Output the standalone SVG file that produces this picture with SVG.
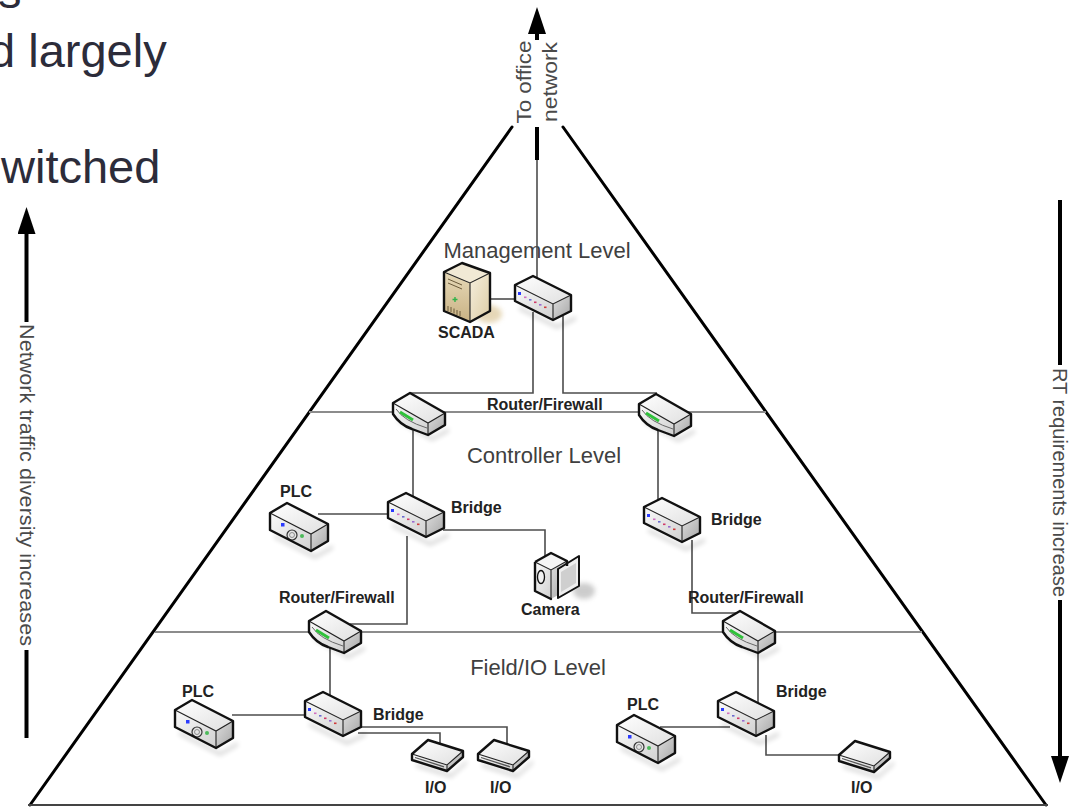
<svg xmlns="http://www.w3.org/2000/svg" xmlns:xlink="http://www.w3.org/1999/xlink" width="1071" height="807" viewBox="0 0 1071 807">
<style>
.conn{fill:none;stroke:#4d4d4d;stroke-width:1.6}
.lvl{stroke:#8c8c8c;stroke-width:2;fill:none}
.pyr{stroke:#000;stroke-width:3;fill:none;stroke-linecap:round}
.axis{stroke:#000;stroke-width:4;fill:none}
.lbl{font-family:"Liberation Sans",Arial,sans-serif;font-weight:bold;font-size:16px;fill:#222}
.lvltxt{font-family:"Liberation Sans",Arial,sans-serif;font-size:22px;fill:#404040;text-anchor:middle}
.rot{font-family:"Liberation Sans",Arial,sans-serif;font-size:20px;fill:#4a4a4a}
.slide{font-family:"Liberation Sans",Arial,sans-serif;font-size:47px;fill:#2c2c3a}
.ol{fill:none;stroke:#111;stroke-width:2.4;stroke-linejoin:round}
.ed{fill:none;stroke:#222;stroke-width:1.1}
.shd{fill:#000;opacity:.16}
</style>
<defs>
<filter id="sh" x="-50%" y="-50%" width="200%" height="200%"><feGaussianBlur stdDeviation="2.5"/></filter>
<linearGradient id="gTop" x1="0" y1="0" x2="1" y2="1"><stop offset="0" stop-color="#ffffff"/><stop offset="1" stop-color="#e0e0e0"/></linearGradient>
<linearGradient id="gFront" x1="0" y1="0" x2="1" y2="1"><stop offset="0" stop-color="#fafafa"/><stop offset="1" stop-color="#d0d0d0"/></linearGradient>
<linearGradient id="gSide" x1="0" y1="0" x2="1" y2="1"><stop offset="0" stop-color="#dedede"/><stop offset="1" stop-color="#a6a6a6"/></linearGradient>
<linearGradient id="gTan" x1="0" y1="0" x2="0" y2="1"><stop offset="0" stop-color="#e6d9b8"/><stop offset="1" stop-color="#c9b284"/></linearGradient>
<linearGradient id="gTan2" x1="0" y1="0" x2="1" y2="1"><stop offset="0" stop-color="#f6efde"/><stop offset="1" stop-color="#dccca4"/></linearGradient>
<marker id="ah" markerWidth="28" markerHeight="18" refX="1" refY="9" orient="auto" markerUnits="userSpaceOnUse" viewBox="0 0 28 18"><path d="M0,0 L27,9 L0,18 Z" fill="#000"/></marker>

<g id="bridgeShape">
 <polygon class="shd" filter="url(#sh)" points="6,31 44,50 63,41 63,45 44,54 6,35"/>
 <polygon points="2,10 20,1 58,20 40,29" fill="url(#gTop)"/>
 <polygon points="2,10 40,29 40,45 2,26" fill="url(#gFront)"/>
 <polygon points="40,29 58,20 58,36 40,45" fill="url(#gSide)"/>
 <path class="ed" d="M2,10 L40,29 L58,20 M40,29 V45"/>
 <rect x="5" y="17" width="3" height="3" fill="#2b3bff"/>
 <rect x="11" y="21.5" width="2.5" height="1.6" fill="#d070c0"/>
 <rect x="16" y="24" width="2.5" height="1.6" fill="#6a6ad0"/>
 <rect x="21" y="26.5" width="2.5" height="1.6" fill="#d03a6a"/>
 <rect x="26" y="29" width="2.5" height="1.6" fill="#9a6ad0"/>
 <rect x="31" y="31.5" width="2.5" height="1.6" fill="#d03a3a"/>
 <path class="ol" d="M2,10 L20,1 L58,20 L58,36 L40,45 L2,26 Z"/>
</g>

<g id="plcShape">
 <polygon class="shd" filter="url(#sh)" points="4,31 45,52 63,42 63,46 45,56 4,35"/>
 <polygon points="0,10 17,0 58,21 41,31" fill="url(#gTop)"/>
 <polygon points="0,10 41,31 41,48 0,27" fill="url(#gFront)"/>
 <polygon points="41,31 58,21 58,38 41,48" fill="url(#gSide)"/>
 <path class="ed" d="M0,10 L41,31 L58,21 M41,31 V48"/>
 <rect x="11" y="20" width="3.5" height="3.5" fill="#2b3bff"/>
 <circle cx="22" cy="32" r="5" fill="#e4e4e4" stroke="#333" stroke-width="1.2"/>
 <circle cx="22" cy="32" r="2.5" fill="none" stroke="#777" stroke-width=".8"/>
 <circle cx="32" cy="33" r="2" fill="#4cba5a"/>
 <path class="ol" d="M0,10 L17,0 L58,21 L58,38 L41,48 L0,27 Z"/>
</g>

<g id="routerShape">
 <polygon class="shd" filter="url(#sh)" points="6,26 40,45 57,36 57,40 40,49 6,30"/>
 <polygon points="1,11 18,1 53,21 36,31" fill="url(#gTop)"/>
 <path d="M1,11 L36,31 L36,43 L20,37 Q8,33 1,22 Z" fill="url(#gFront)"/>
 <polygon points="36,31 53,21 53,33 36,43" fill="url(#gSide)"/>
 <path class="ed" d="M1,11 L36,31 L53,21 M36,31 V43"/>
 <path d="M4,17 Q12,29 35,36" fill="none" stroke="#666" stroke-width="1"/>
 <path d="M8,20 L21,28" fill="none" stroke="#2fc23a" stroke-width="3"/>
 <path class="ol" d="M1,11 L18,1 L53,21 L53,33 L36,43 L20,37 Q8,33 1,22 Z"/>
</g>

<g id="ioShape">
 <polygon class="shd" filter="url(#sh)" points="6,26 41,37 57,23 57,27 41,41 6,30"/>
 <polygon points="2,17 18,3 53,14 37,28" fill="url(#gTop)"/>
 <polygon points="2,17 37,28 37,34 2,23" fill="url(#gFront)"/>
 <polygon points="37,28 53,14 53,20 37,34" fill="url(#gSide)"/>
 <path class="ed" d="M2,17 L37,28 L53,14 M37,28 V34"/>
 <path d="M5,20.5 L34,29.8" fill="none" stroke="#555" stroke-width="1.3"/>
 <path class="ol" d="M2,17 L18,3 L53,14 L53,20 L37,34 L2,23 Z"/>
</g>
</defs>

<rect x="0" y="0" width="1071" height="807" fill="#ffffff"/>

<g id="slide-text">
 <text class="slide" x="-2" y="8">s</text>
 <text class="slide" x="-11" y="67">d largely</text>
 <text class="slide" x="1" y="183">witched</text>
</g>

<g id="pyramid">
 <path class="pyr" d="M512,127 L30,805"/>
 <path class="pyr" d="M563,127 L1046,805"/>
 <path d="M28,805 H1048" stroke="#444" stroke-width="2.2" fill="none"/>
 <path class="lvl" d="M309,412 H766"/>
 <path class="lvl" d="M155,632 H922"/>
</g>

<g id="axes">
 <path class="axis" d="M26.5,322 V233" marker-end="url(#ah)"/>
 <path class="axis" d="M26.5,650 V738"/>
 <text class="rot" font-size="21" transform="translate(20,324) rotate(90)" textLength="322" lengthAdjust="spacingAndGlyphs">Network traffic diversity increases</text>
 <path class="axis" d="M1060,200 V365"/>
 <path class="axis" d="M1060,600 V757" marker-end="url(#ah)"/>
 <text class="rot" transform="translate(1053,368) rotate(90)" textLength="229" lengthAdjust="spacingAndGlyphs">RT requirements increase</text>
 <path class="axis" d="M537,40 V33" marker-end="url(#ah)"/>
 <text class="rot" font-size="21" text-anchor="middle" transform="translate(531,82) rotate(-90)" textLength="83" lengthAdjust="spacingAndGlyphs">To office</text>
 <text class="rot" font-size="21" text-anchor="middle" transform="translate(557,82) rotate(-90)" textLength="80" lengthAdjust="spacingAndGlyphs">network</text>
</g>

<g id="levels">
 <text class="lvltxt" x="537" y="258">Management Level</text>
 <text class="lvltxt" x="544" y="463">Controller Level</text>
 <text class="lvltxt" x="538" y="675">Field/IO Level</text>
</g>

<g id="connectors">
 <path d="M537,127 V160" stroke="#000" stroke-width="4" fill="none"/>
 <path class="conn" d="M537,160 V283"/>
 <path class="conn" d="M488,299 H518"/>
 <path class="conn" d="M533,312 V393 H410"/>
 <path class="conn" d="M563,316 V393 H657"/>
 <path class="conn" d="M413,428 V497"/>
 <path class="conn" d="M658,430 V502"/>
 <path class="conn" d="M318,514 H392"/>
 <path class="conn" d="M443,530 H545 V557"/>
 <path class="conn" d="M407,536 V624 H350"/>
 <path class="conn" d="M692,540 V613 H740"/>
 <path class="conn" d="M330,645 V695"/>
 <path class="conn" d="M758,645 V704"/>
 <path class="conn" d="M232,715 H308"/>
 <path class="conn" d="M358,727 H507 V745"/>
 <path class="conn" d="M358,733 H440 V746"/>
 <path class="conn" d="M660,727 H730"/>
 <path class="conn" d="M766,735 V755 H845"/>
</g>

<g id="scada">
 <ellipse cx="489" cy="314" rx="13" ry="9" fill="#dcc79a" opacity=".7" filter="url(#sh)"/>
 <polygon points="444,272 462,263 490,273 470,283" fill="#f1e9d5"/>
 <polygon points="444,272 470,283 470,322 444,311" fill="url(#gTan)"/>
 <polygon points="470,283 490,273 490,311 470,322" fill="url(#gTan2)"/>
 <path class="ed" d="M444,272 L470,283 L490,273 M470,283 V322"/>
 <path d="M448,279 L462,285 M448,283 L462,289" stroke="#6a5a3a" stroke-width="1" fill="none"/>
 <path d="M455,297 v5 M452.5,299.5 h5" stroke="#2fb34a" stroke-width="1.4"/>
 <path d="M448,306 v5 M451,307 v5 M454,308.5 v5 M457,310 v5 M460,311 v5" stroke="#6a5a3a" stroke-width="1" fill="none"/>
 <path class="ol" d="M444,272 L462,263 L490,273 L490,311 L470,322 L444,311 Z"/>
 <text class="lbl" x="438" y="338">SCADA</text>
</g>

<g id="mgmt-switch"><use xlink:href="#bridgeShape" href="#bridgeShape" x="513" y="275"/></g>

<g id="router-ctrl-left">
 <use xlink:href="#routerShape" href="#routerShape" x="392" y="392"/>
 <text class="lbl" x="487" y="410">Router/Firewall</text>
</g>
<g id="router-ctrl-right"><use xlink:href="#routerShape" href="#routerShape" x="638" y="393"/></g>

<g id="bridge-ctrl-left">
 <use xlink:href="#bridgeShape" href="#bridgeShape" x="386" y="492"/>
 <text class="lbl" x="451" y="513">Bridge</text>
</g>
<g id="plc-ctrl">
 <use xlink:href="#plcShape" href="#plcShape" x="270" y="503"/>
 <text class="lbl" x="280" y="497">PLC</text>
</g>

<g id="camera">
 <ellipse cx="584" cy="591" rx="11" ry="8" fill="#9a9a9a" opacity=".5" filter="url(#sh)"/>
 <polygon points="535,562 551,553 567,561 551,570" fill="#f5f5f5"/>
 <polygon points="535,562 551,570 551,599 535,591" fill="url(#gFront)"/>
 <polygon points="551,570 567,561 567,590 551,599" fill="url(#gSide)"/>
 <path class="ed" d="M535,562 L551,570 L567,561 M551,570 V599"/>
 <ellipse cx="541" cy="577" rx="3.5" ry="6.5" fill="#f2f2f2" stroke="#111" stroke-width="1.3"/>
 <polygon points="558,569 579,556 579,586 558,598" fill="#eeeeee" stroke="#111" stroke-width="2" stroke-linejoin="round"/>
 <polygon points="561,572 576,563 576,583 561,592" fill="#cfcfcf"/>
 <path class="ol" d="M535,562 L551,553 L567,561 L567,566 M551,599 L535,591 Z M535,562 V591"/>
 <text class="lbl" x="521" y="615">Camera</text>
</g>

<g id="router-field-left">
 <use xlink:href="#routerShape" href="#routerShape" x="308" y="610"/>
 <text class="lbl" x="279" y="603">Router/Firewall</text>
</g>

<g id="bridge-ctrl-right">
 <use xlink:href="#bridgeShape" href="#bridgeShape" x="642" y="497"/>
 <text class="lbl" x="711" y="525">Bridge</text>
</g>

<g id="router-field-right">
 <use xlink:href="#routerShape" href="#routerShape" x="722" y="610"/>
 <text class="lbl" x="688" y="603">Router/Firewall</text>
</g>

<g id="bridge-field-left">
 <use xlink:href="#bridgeShape" href="#bridgeShape" x="303" y="691"/>
 <text class="lbl" x="373" y="720">Bridge</text>
</g>
<g id="plc-field-left">
 <use xlink:href="#plcShape" href="#plcShape" x="175" y="700"/>
 <text class="lbl" x="182" y="697">PLC</text>
</g>
<g id="io-1">
 <use xlink:href="#ioShape" href="#ioShape" x="410" y="737"/>
 <text class="lbl" x="425" y="793">I/O</text>
</g>
<g id="io-2">
 <use xlink:href="#ioShape" href="#ioShape" x="476" y="737"/>
 <text class="lbl" x="490" y="793">I/O</text>
</g>

<g id="bridge-field-right">
 <use xlink:href="#bridgeShape" href="#bridgeShape" x="716" y="691"/>
 <text class="lbl" x="776" y="697">Bridge</text>
</g>
<g id="plc-field-right">
 <use xlink:href="#plcShape" href="#plcShape" x="617" y="715"/>
 <text class="lbl" x="627" y="710">PLC</text>
</g>
<g id="io-3">
 <use xlink:href="#ioShape" href="#ioShape" x="837" y="738"/>
 <text class="lbl" x="851" y="793">I/O</text>
</g>
</svg>
